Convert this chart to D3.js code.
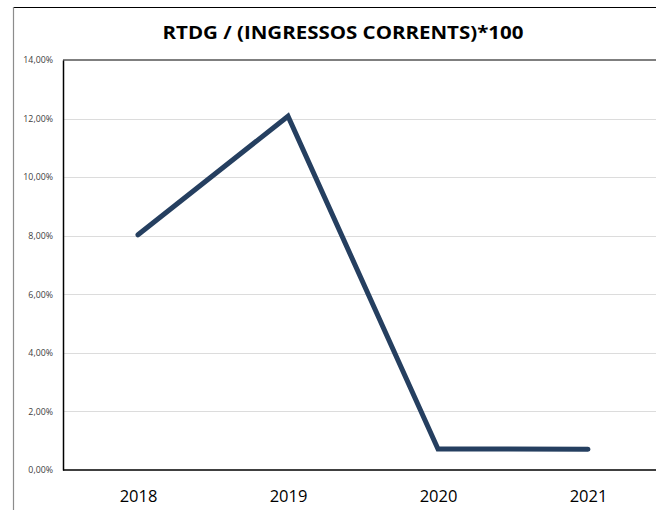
<!DOCTYPE html>
<html>
<head>
<meta charset="utf-8">
<script src="https://cdn.jsdelivr.net/npm/d3@7"></script>
<style>
  html, body { margin: 0; padding: 0; background: #fff; overflow: hidden; }
  svg { display: block; }
</style>
</head>
<body>
<svg id="chart" width="656" height="510"></svg>
<script>
// Ratio per year (percent)
const years = ["2018", "2019", "2020", "2021"];
const ratioValues = [8.03, 12.08, 0.72, 0.71];
const yTicks = [0, 2, 4, 6, 8, 10, 12, 14];
const titleText = "RTDG / (INGRESSOS CORRENTS)*100";

const svg = d3.select("#chart");
const W = 656, H = 510;
const plot = { left: 63, top: 60, right: 663, bottom: 470 };

// Outer frame (top and left edges visible)
svg.append("line").attr("x1", 13).attr("x2", W).attr("y1", 7.5).attr("y2", 7.5)
  .attr("stroke", "#000").attr("stroke-width", 1.2);
svg.append("line").attr("x1", 13.5).attr("x2", 13.5).attr("y1", 7).attr("y2", H)
  .attr("stroke", "#8c8c8c").attr("stroke-width", 1.2);

const x = d3.scalePoint().domain(years)
  .range([plot.left, plot.right]).padding(0.5);
const y = d3.scaleLinear().domain([0, 14]).range([plot.bottom, plot.top]);

// Title
svg.append("text")
  .attr("x", 343).attr("y", 39)
  .attr("text-anchor", "middle")
  .attr("font-family", "'Open Sans', 'Noto Sans', sans-serif")
  .attr("font-weight", "bold")
  .attr("font-size", 18)
  .attr("textLength", 361)
  .attr("lengthAdjust", "spacingAndGlyphs")
  .attr("fill", "#000")
  .text(titleText);

// Horizontal gridlines
svg.append("g")
  .selectAll("line")
  .data(yTicks.filter(t => t > 0 && t < 14))
  .join("line")
  .attr("x1", plot.left).attr("x2", W)
  .attr("y1", d => Math.round(y(d)) + 0.5).attr("y2", d => Math.round(y(d)) + 0.5)
  .attr("stroke", "#dcdcdc").attr("stroke-width", 1);

// Top edge of plot area
svg.append("line")
  .attr("x1", plot.left).attr("x2", W)
  .attr("y1", y(14)).attr("y2", y(14))
  .attr("stroke", "#7f7f7f").attr("stroke-width", 2);

// Y axis
const yAxis = d3.axisLeft(y).tickValues(yTicks).tickSize(0).tickPadding(10)
  .tickFormat(d => d3.format(".2f")(d).replace(".", ",") + "%");
const gy = svg.append("g").attr("transform", `translate(${plot.left},0)`).call(yAxis);
gy.select(".domain").attr("stroke", "#000").attr("stroke-width", 1.5);
gy.selectAll("text")
  .attr("font-family", "'Open Sans', 'Noto Sans', sans-serif")
  .attr("font-size", 8.8)
  .attr("fill", "#404040");

// X axis
const xAxis = d3.axisBottom(x).tickSize(0).tickPadding(20);
const gx = svg.append("g").attr("transform", `translate(0,${plot.bottom})`).call(xAxis);
gx.select(".domain").attr("stroke", "#000").attr("stroke-width", 1.5)
  .attr("d", `M${plot.left},0H${W}`);
gx.selectAll("text")
  .attr("font-family", "'Open Sans', 'Noto Sans', sans-serif")
  .attr("font-size", 16.5)
  .attr("fill", "#000");

// Data line
const line = d3.line()
  .x((d, i) => x(years[i]))
  .y(d => y(d));
svg.append("path")
  .datum(ratioValues)
  .attr("d", line)
  .attr("fill", "none")
  .attr("stroke", "#253f60")
  .attr("stroke-width", 5)
  .attr("stroke-linecap", "round")
  .attr("stroke-linejoin", "miter");
</script>
</body>
</html>
